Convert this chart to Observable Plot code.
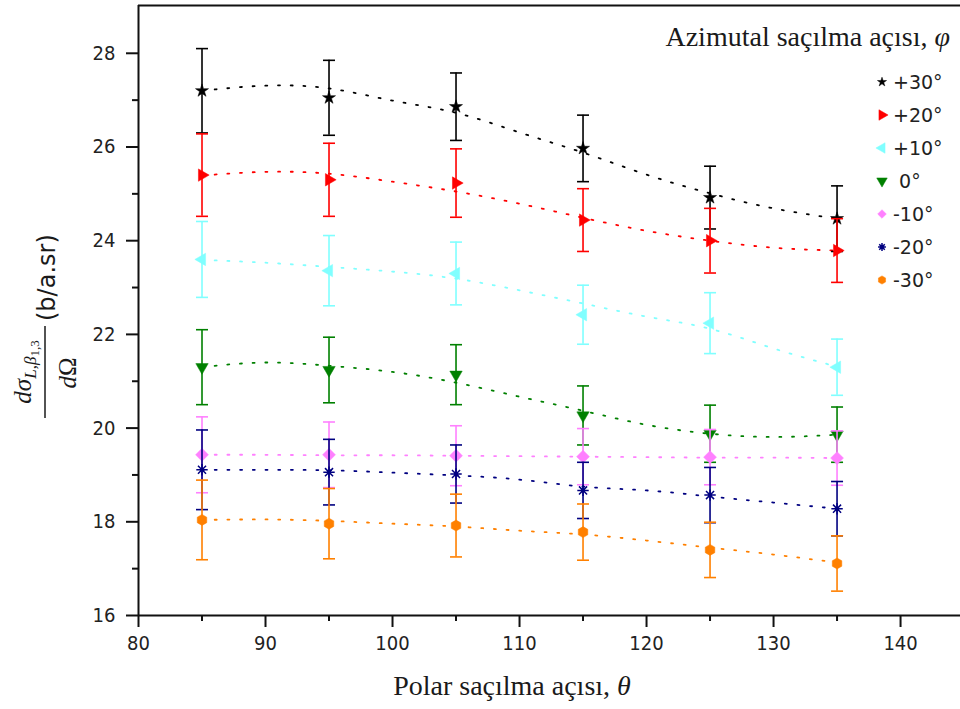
<!DOCTYPE html>
<html><head><meta charset="utf-8">
<script src="https://cdn.jsdelivr.net/npm/d3@7"></script>
<script src="https://cdn.jsdelivr.net/npm/@observablehq/plot@0.6"></script>
<style>
html,body{margin:0;padding:0;background:#fff;}
#chart{position:relative;width:960px;height:709px;}
</style></head><body><div id="chart"></div>
<script>
// ---- data ----
const theta = [85, 95, 105, 115, 125, 135];
const seriesLabels = ["+30°", "+20°", "+10°", " 0°", "-10°", "-20°", "-30°"];
const seriesColors = ["#000000", "#FF0000", "#80FFFF", "#008000", "#FF80FF", "#000080", "#FF8000"];

const val_p30 = [27.20, 27.05, 26.86, 25.97, 24.92, 24.47];
const err_p30 = [0.90, 0.80, 0.72, 0.71, 0.67, 0.70];
const val_p20 = [25.40, 25.30, 25.23, 24.44, 24.00, 23.79];
const err_p20 = [0.88, 0.78, 0.73, 0.67, 0.69, 0.68];
const val_p10 = [23.60, 23.36, 23.30, 22.42, 22.24, 21.30];
const err_p10 = [0.81, 0.75, 0.67, 0.63, 0.65, 0.60];
const val_0 = [21.30, 21.24, 21.14, 20.27, 19.88, 19.86];
const err_0 = [0.80, 0.70, 0.64, 0.63, 0.61, 0.59];
const val_m10 = [19.43, 19.43, 19.41, 19.39, 19.38, 19.36];
const err_m10 = [0.81, 0.70, 0.64, 0.60, 0.59, 0.58];
const val_m20 = [19.11, 19.06, 19.02, 18.67, 18.57, 18.28];
const err_m20 = [0.85, 0.70, 0.62, 0.60, 0.59, 0.58];
const val_m30 = [18.04, 17.96, 17.92, 17.78, 17.40, 17.11];
const err_m30 = [0.85, 0.75, 0.67, 0.60, 0.59, 0.59];

// fitted (dotted) curves
const fitTheta = [85, 90, 95, 100, 105, 110, 115, 120, 125, 130, 135];
const fit_p30 = [27.20, 27.31, 27.25, 26.99, 26.73, 26.31, 25.88, 25.41, 25.01, 24.69, 24.47];
const fit_p20 = [25.39, 25.47, 25.43, 25.26, 25.05, 24.79, 24.49, 24.21, 24.00, 23.85, 23.79];
const fit_p10 = [23.59, 23.53, 23.44, 23.34, 23.19, 22.94, 22.66, 22.38, 22.12, 21.70, 21.31];
const fit_0   = [21.30, 21.40, 21.33, 21.20, 20.97, 20.67, 20.37, 20.07, 19.88, 19.81, 19.86];
const fit_m10 = [19.43, 19.43, 19.42, 19.42, 19.41, 19.40, 19.39, 19.38, 19.37, 19.37, 19.36];
const fit_m20 = [19.11, 19.11, 19.10, 19.05, 18.99, 18.90, 18.75, 18.67, 18.54, 18.41, 18.28];
const fit_m30 = [18.04, 18.05, 18.02, 17.96, 17.90, 17.81, 17.73, 17.60, 17.45, 17.30, 17.13];

const xTicks = [80, 90, 100, 110, 120, 130, 140];
const xMinorTicks = [85, 95, 105, 115, 125, 135];
const yTicks = [16, 18, 20, 22, 24, 26, 28];
const yMinorTicks = [17, 19, 21, 23, 25, 27];

// ---- build tables ----
const vals = [val_p30, val_p20, val_p10, val_0, val_m10, val_m20, val_m30];
const errs = [err_p30, err_p20, err_p10, err_0, err_m10, err_m20, err_m30];
const fits = [fit_p30, fit_p20, fit_p10, fit_0, fit_m10, fit_m20, fit_m30];

const points = [];
vals.forEach((arr, s) => arr.forEach((v, i) => points.push({s, theta: theta[i], v, lo: v - errs[s][i], hi: v + errs[s][i]})));
const fitRows = [];
fits.forEach((arr, s) => arr.forEach((v, i) => fitRows.push({s, theta: fitTheta[i], v})));

const hexagon = {draw(ctx, size) {
  const r = Math.sqrt(size / (1.5 * Math.sqrt(3)));
  for (let k = 0; k < 6; k++) {
    const a = Math.PI / 6 + k * Math.PI / 3;
    const px = r * Math.cos(a), py = r * Math.sin(a);
    if (k === 0) ctx.moveTo(px, py); else ctx.lineTo(px, py);
  }
  ctx.closePath();
}};
const asterisk8 = {draw(ctx, size) {
  const r = Math.sqrt(size) * 0.62;
  for (let k = 0; k < 4; k++) {
    const a = k * Math.PI / 4;
    ctx.moveTo(-r * Math.cos(a), -r * Math.sin(a));
    ctx.lineTo(r * Math.cos(a), r * Math.sin(a));
  }
}};
const capSymbol = {draw(ctx) { ctx.moveTo(-6, 0); ctx.lineTo(6, 0); }};

const markerDefs = [
  {symbol: "star", rotate: 0, r: 4.1, filled: true},
  {symbol: "triangle", rotate: 90, r: 4.6, filled: true},
  {symbol: "triangle", rotate: -90, r: 4.6, filled: true},
  {symbol: "triangle", rotate: 180, r: 4.6, filled: true},
  {symbol: "diamond2", rotate: 0, r: 5.8, filled: true},
  {symbol: asterisk8, rotate: 0, r: 5.2, filled: false},
  {symbol: hexagon, rotate: 0, r: 5.0, filled: true}
];

const marks = [];
// dotted fit lines
seriesColors.forEach((c, s) => {
  marks.push(Plot.line(fitRows.filter(d => d.s === s), {
    x: "theta", y: "v", stroke: c, strokeWidth: 1.8, strokeDasharray: "2,10.7", curve: "natural"
  }));
});
// error bars + markers, series by series
seriesColors.forEach((c, s) => {
  const rows = points.filter(d => d.s === s);
  marks.push(Plot.ruleX(rows, {x: "theta", y1: "lo", y2: "hi", stroke: c, strokeWidth: 1.6}));
  marks.push(Plot.dot(rows, {x: "theta", y: "lo", symbol: capSymbol, fill: "none", stroke: c, strokeWidth: 1.6, r: 6}));
  marks.push(Plot.dot(rows, {x: "theta", y: "hi", symbol: capSymbol, fill: "none", stroke: c, strokeWidth: 1.6, r: 6}));
  const m = markerDefs[s];
  marks.push(Plot.dot(rows, {
    x: "theta", y: "v", symbol: m.symbol, rotate: m.rotate, r: m.r,
    fill: m.filled ? c : "none", stroke: c, strokeWidth: m.filled ? 0.5 : 1.5
  }));
});

const yTop = 29.02;
const plot = Plot.plot({
  width: 960, height: 709,
  marginLeft: 138, marginRight: 0, marginTop: 5, marginBottom: 94,
  x: {domain: [80, 144.72], label: null},
  y: {domain: [16, yTop], label: null},
  style: {fontFamily: "'DejaVu Sans Condensed','DejaVu Sans',sans-serif", fontSize: "20px", color: "#222", background: "#fff", overflow: "visible"},
  marks: [
    Plot.axisX({ticks: xTicks, tickSize: 12, tickPadding: 8, strokeWidth: 2, stroke: "#111", label: null, fill: "#222"}),
    Plot.axisX({ticks: xMinorTicks, tickSize: 6, tickFormat: () => "", strokeWidth: 2, stroke: "#111", label: null}),
    Plot.axisY({ticks: yTicks, tickSize: 12, tickPadding: 11, strokeWidth: 2, stroke: "#111", label: null, fill: "#222"}),
    Plot.axisY({ticks: yMinorTicks, tickSize: 6, tickFormat: () => "", strokeWidth: 2, stroke: "#111", label: null}),
    ...marks,
    Plot.ruleX([80], {stroke: "#111", strokeWidth: 2}),
    Plot.ruleY([16], {stroke: "#111", strokeWidth: 2}),
    Plot.ruleY([yTop], {stroke: "#111", strokeWidth: 2})
  ]
});

const svg = d3.select(plot);
const serif = "'Liberation Serif','Times New Roman',serif";
const sans = "'DejaVu Sans',sans-serif";

// legend title
const title = svg.append("text").attr("x", 950).attr("y", 46).attr("text-anchor", "end")
  .attr("font-family", serif).attr("font-size", 28).attr("fill", "#1a1a1a");
title.append("tspan").text("Azimutal saçılma açısı, ");
title.append("tspan").attr("font-style", "italic").text("φ");

// legend entries
const legSyms = [d3.symbolStar, d3.symbolTriangle, d3.symbolTriangle, d3.symbolTriangle, d3.symbolDiamond2, asterisk8, hexagon];
const legSize = [26, 48, 48, 48, 48, 40, 44];
const legRot = [0, 90, -90, 180, 0, 0, 0];
seriesLabels.forEach((lab, i) => {
  const cy = 82 + i * 33;
  const filled = i !== 5;
  svg.append("path")
    .attr("transform", `translate(882,${cy}) rotate(${legRot[i]})`)
    .attr("d", d3.symbol(legSyms[i], legSize[i])())
    .attr("fill", filled ? seriesColors[i] : "none")
    .attr("stroke", seriesColors[i]).attr("stroke-width", filled ? 0.5 : 1.5);
  svg.append("text").attr("x", 893).attr("y", cy).attr("dy", "0.36em").attr("text-anchor", "start")
    .attr("font-family", sans).attr("font-size", 19).attr("fill", "#222")
    .style("white-space", "pre").text(lab);
});

// x-axis label
const xl = svg.append("text").attr("x", 512).attr("y", 695).attr("text-anchor", "middle")
  .attr("font-family", serif).attr("font-size", 28).attr("fill", "#1a1a1a");
xl.append("tspan").text("Polar saçılma açısı, ");
xl.append("tspan").attr("font-style", "italic").text("θ");

// y-axis label (rotated fraction)
const yl = svg.append("g").attr("transform", "rotate(-90)").attr("font-family", serif).attr("fill", "#1a1a1a");
yl.append("line").attr("x1", -418).attr("x2", -326).attr("y1", 45).attr("y2", 45).attr("stroke", "#1a1a1a").attr("stroke-width", 1.5);
const num = yl.append("text").attr("x", -372).attr("y", 31).attr("text-anchor", "middle").attr("font-size", 25).attr("font-style", "italic");
num.append("tspan").text("dσ");
num.append("tspan").attr("font-size", 17).attr("dy", 5).text("L,β");
num.append("tspan").attr("font-size", 13).attr("dy", 3).attr("font-style", "normal").text("1,3");
const den = yl.append("text").attr("x", -373).attr("y", 76).attr("text-anchor", "middle").attr("font-size", 25);
den.append("tspan").attr("font-style", "italic").text("d");
den.append("tspan").text("Ω");
yl.append("text").attr("x", -321).attr("y", 55).attr("text-anchor", "start").attr("font-family", sans).attr("font-size", 24).text("(b/a.sr)");

document.getElementById("chart").appendChild(plot);
</script>
</body></html>
